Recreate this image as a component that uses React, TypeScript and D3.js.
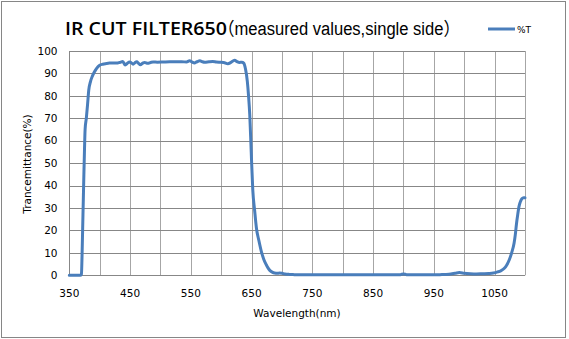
import React from "react";
import * as d3 from "d3";

const wavelengths = [350, 360, 368, 370, 371, 372, 373, 374, 375, 376, 378, 380, 382, 385, 388, 391, 395, 400, 405, 411, 416, 422, 428, 433, 438, 442, 446, 449, 452, 455, 458, 461, 464, 467, 471, 474, 479, 484, 488, 495, 505, 515, 525, 535, 543, 548, 552, 556, 560, 565, 569, 573, 580, 586, 592, 597, 604, 611, 616, 622, 626, 630, 634, 637, 640, 643, 645, 647, 649, 650, 652, 655, 658, 662, 666, 670, 674, 677, 680, 684, 688, 692, 696, 700, 705, 712, 720, 740, 760, 780, 800, 820, 840, 860, 880, 895, 900, 905, 920, 940, 960, 975, 985, 992, 1000, 1010, 1020, 1030, 1040, 1048, 1055, 1060, 1066, 1070, 1074, 1078, 1082, 1084, 1086, 1088, 1090, 1092, 1094, 1096, 1098, 1100];
const transmittance = [0, 0, 0, 0.5, 9, 21, 33, 45, 56, 65, 70, 76, 82.5, 86.5, 88.8, 90.5, 92.3, 93.6, 94.1, 94.4, 94.6, 94.7, 94.6, 94.9, 95.3, 93.8, 94.6, 95.1, 94.8, 94.1, 94.8, 95.2, 94.5, 93.9, 94.6, 94.9, 94.5, 94.9, 95.1, 95.0, 95.1, 95.2, 95.2, 95.2, 95.1, 95.6, 95.1, 94.7, 95.2, 95.6, 95.2, 95.0, 95.2, 95.3, 95.1, 95.0, 94.9, 94.3, 94.9, 95.9, 95.3, 94.9, 95.0, 94.6, 92, 86.5, 80, 71.6, 58, 50.8, 38, 29, 21, 15.5, 10.7, 7.2, 4.8, 3.3, 2.2, 1.4, 1.0, 0.9, 1.0, 0.9, 0.6, 0.4, 0.3, 0.2, 0.2, 0.2, 0.2, 0.2, 0.2, 0.2, 0.2, 0.3, 0.6, 0.3, 0.2, 0.2, 0.3, 0.5, 0.9, 1.2, 0.9, 0.7, 0.6, 0.7, 0.8, 1.0, 1.5, 2.0, 3.1, 4.6, 6.8, 10, 14.3, 18, 23, 27, 30.5, 32.5, 33.8, 34.4, 34.6, 34.6];

const xGridValues = d3.range(350, 1101, 50);
const xTickLabels = [350, 450, 550, 650, 750, 850, 950, 1050];
const yTickValues = d3.range(0, 101, 10);

const titleMain = "IR CUT FILTER650";
const titleSub = "（measured values,single side）";
const seriesName = "%T";
const xAxisTitle = "Wavelength(nm)";
const yAxisTitle = "Trancemittance(%)";

export default function App() {
  const W = 569, H = 339;
  const left = 69.3, right = 525, top = 51, bottom = 275.3;
  const x = d3.scaleLinear().domain([350, 1100]).range([left, right]);
  const y = d3.scaleLinear().domain([0, 100]).range([bottom, top]);
  const pts = wavelengths.map((w, i) => [w, transmittance[i]] as [number, number]);
  const line = d3.line<[number, number]>().x(d => x(d[0])).y(d => y(d[1])).curve(d3.curveMonotoneX);
  const font = "'DejaVu Sans', sans-serif";
  const color = "#4a7ebb";
  return (
    <svg width={W} height={H} style={{ position: "fixed", left: 0, top: 0 }} fontFamily={font}>
      <rect x={0} y={0} width={W} height={H} fill="#fff" />
      <rect x={1.5} y={1.5} width={564} height={336} fill="none" stroke="#868686" strokeWidth={1} />
      {xGridValues.map(v => (
        <line key={"vx" + v} x1={Math.round(x(v)) + 0.5} x2={Math.round(x(v)) + 0.5} y1={top} y2={bottom} stroke="#a6a6a6" strokeWidth={1} />
      ))}
      {yTickValues.map(v => (
        <line key={"hy" + v} x1={left} x2={right} y1={Math.round(y(v)) + 0.5} y2={Math.round(y(v)) + 0.5} stroke="#878787" strokeWidth={1} />
      ))}
      <line x1={Math.round(left) + 0.5} x2={Math.round(left) + 0.5} y1={top} y2={bottom} stroke="#878787" />
      {yTickValues.map(v => (
        <text key={"yl" + v} x={57.5} y={y(v)} dy="0.35em" textAnchor="end" fontSize={10.5} fill="#000">{v}</text>
      ))}
      {xTickLabels.map(v => (
        <text key={"xl" + v} x={x(v)} y={297} textAnchor="middle" fontSize={10.5} fill="#000">{v}</text>
      ))}
      <text x={297} y={317} textAnchor="middle" fontSize={10.5} fill="#000">{xAxisTitle}</text>
      <text transform={`translate(31,164) rotate(-90)`} textAnchor="middle" fontSize={10.5} fill="#000">{yAxisTitle}</text>
      <path d={line(pts) || ""} fill="none" stroke={color} strokeWidth={3} strokeLinejoin="round" strokeLinecap="round" />
      <text x={65} y={34.5} fontSize={18.5} fontWeight="600" fontFamily="'Open Sans', 'Liberation Sans', sans-serif" textLength={162} lengthAdjust="spacingAndGlyphs" fill="#000">{titleMain}</text>
      <text x={218} y={34.5} fontSize={18} fontFamily="'Liberation Sans', 'Noto Sans CJK JP', sans-serif" textLength={242} lengthAdjust="spacingAndGlyphs" fill="#000">{titleSub}</text>
      <line x1={488} x2={515} y1={29} y2={29} stroke={color} strokeWidth={3} />
      <text x={517} y={32.5} fontSize={9} fill="#000">{seriesName}</text>
    </svg>
  );
}
